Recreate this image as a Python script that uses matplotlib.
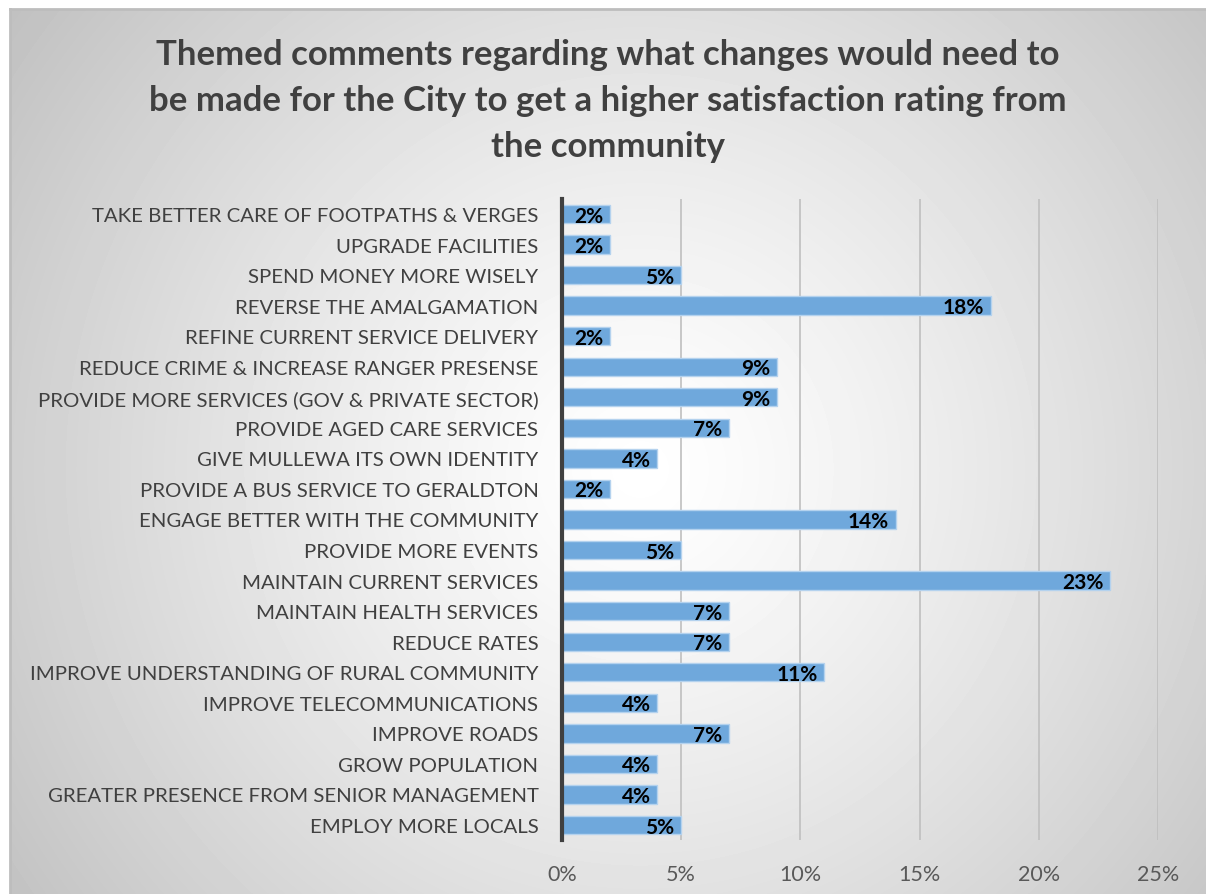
import numpy as np
import matplotlib
matplotlib.use("Agg")
import matplotlib.pyplot as plt
from matplotlib.ticker import PercentFormatter

categories = [
    "TAKE BETTER CARE OF FOOTPATHS & VERGES",
    "UPGRADE FACILITIES",
    "SPEND MONEY MORE WISELY",
    "REVERSE THE AMALGAMATION",
    "REFINE CURRENT SERVICE DELIVERY",
    "REDUCE CRIME & INCREASE RANGER PRESENSE",
    "PROVIDE MORE SERVICES (GOV & PRIVATE SECTOR)",
    "PROVIDE AGED CARE SERVICES",
    "GIVE MULLEWA ITS OWN IDENTITY",
    "PROVIDE A BUS SERVICE TO GERALDTON",
    "ENGAGE BETTER WITH THE COMMUNITY",
    "PROVIDE MORE EVENTS",
    "MAINTAIN CURRENT SERVICES",
    "MAINTAIN HEALTH SERVICES",
    "REDUCE RATES",
    "IMPROVE UNDERSTANDING OF RURAL COMMUNITY",
    "IMPROVE TELECOMMUNICATIONS",
    "IMPROVE ROADS",
    "GROW POPULATION",
    "GREATER PRESENCE FROM SENIOR MANAGEMENT",
    "EMPLOY MORE LOCALS",
]
values = [2, 2, 5, 18, 2, 9, 9, 7, 4, 2, 14, 5, 23, 7, 7, 11, 4, 7, 4, 4, 5]
xticks = [0, 5, 10, 15, 20, 25]

title = ("Themed comments regarding what changes would need to\n"
         "be made for the City to get a higher satisfaction rating from\n"
         "the community")

W, H = 1206, 895
fig = plt.figure(figsize=(W / 100, H / 100), dpi=100, facecolor="white")

# radial grey-to-white backdrop for the chart area
x0, y0 = 10, 10
bg = fig.add_axes([x0 / W, 0, 1 - x0 / W, 1 - y0 / H], zorder=0)
gx, gy = np.meshgrid(np.arange(x0, W), np.arange(y0, H))
r = np.hypot(gx - 640, gy - 470)
shade = 1.0 - 0.25 * np.clip(r / 790, 0, 1.1) ** 1.25
bg.imshow(shade, cmap="gray", vmin=0, vmax=1, aspect="auto",
          extent=[0, 1, 0, 1], interpolation="bilinear")
bg.set_xlim(0, 1)
bg.set_ylim(0, 1)
bg.set_xticks([])
bg.set_yticks([])
for s in bg.spines.values():
    s.set_visible(False)
for s in ("left", "top"):
    bg.spines[s].set_visible(True)
    bg.spines[s].set_color("#BDBDBD")
    bg.spines[s].set_linewidth(2)

font = "Lato"
left, right = 562, 1158
top, bottom = 199.7, 841.3
ax = fig.add_axes([left / W, 1 - bottom / H, (right - left) / W, (bottom - top) / H],
                  zorder=1)
ax.patch.set_alpha(0)

y = np.arange(len(categories))
ax.barh(y, values, height=0.6, color="#6FA8DC", edgecolor="#B4D2EE",
        linewidth=1.0, zorder=3)
for yi, v in zip(y, values):
    ax.text(v - 0.28, yi + 0.05, f"{v}%", ha="right", va="center",
            fontsize=15, fontweight="bold", color="black", family=font, zorder=4)

ax.set_ylim(len(categories) - 0.5, -0.5)
ax.set_xlim(0, 25)
ax.set_yticks(y)
ax.set_yticklabels(categories, family=font, fontsize=14.7, color="#404040")
ax.set_xticks(xticks)
ax.xaxis.set_major_formatter(PercentFormatter(decimals=0))
for lab in ax.get_xticklabels():
    lab.set_family(font)
    lab.set_fontsize(15.5)
    lab.set_color("#595959")
ax.tick_params(axis="y", length=0, pad=17)
ax.tick_params(axis="x", length=0, pad=17)
ax.grid(axis="x", color="#BFBFBF", linewidth=1.2, zorder=1)
for s in ["top", "right", "bottom"]:
    ax.spines[s].set_visible(False)
ax.spines["left"].set_color("#404040")
ax.spines["left"].set_linewidth(3)
ax.spines["left"].set_zorder(5)

fig.text(608 / W, 1 - 101 / H, title, ha="center", va="center",
         fontsize=25, fontweight="bold", color="#404040", family=font,
         linespacing=1.53)

fig.savefig("out.png", dpi=100, facecolor=fig.get_facecolor())
